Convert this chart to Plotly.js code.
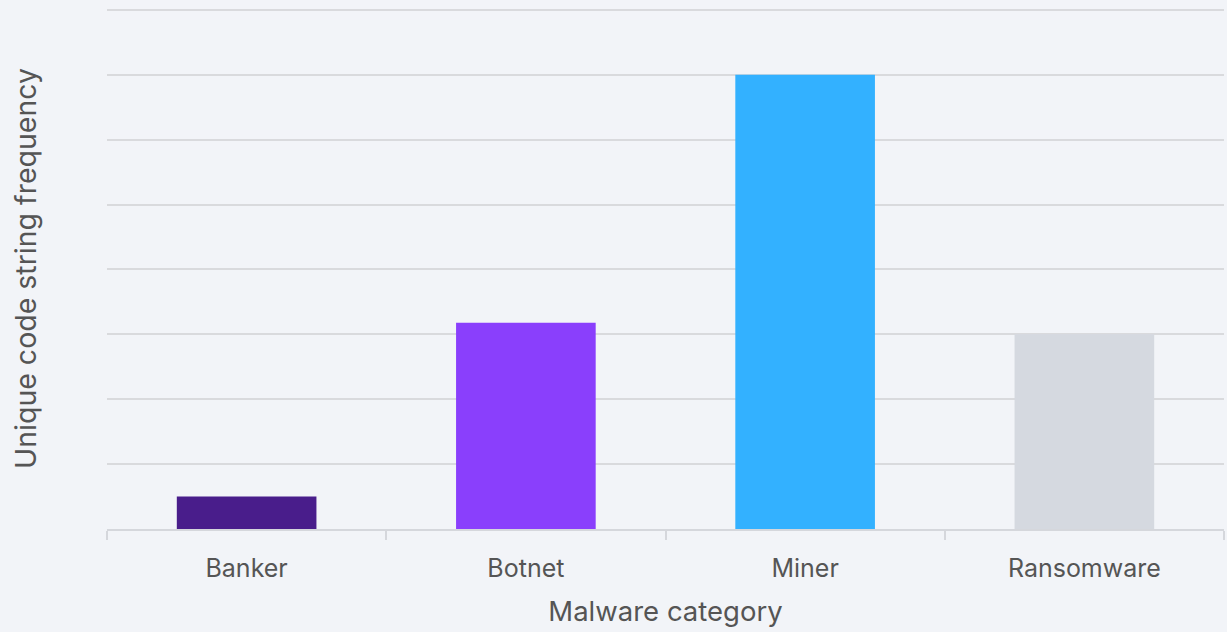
<!DOCTYPE html>
<html>
<head>
<meta charset="utf-8">
<script src="https://cdn.plot.ly/plotly-3.0.1.min.js"></script>
<style>html,body{margin:0;padding:0;background:#f2f4f8;}#chart{width:1227px;height:632px;}</style>
</head>
<body>
<div id="chart"></div>
<script>
const categories = ["Banker", "Botnet", "Miner", "Ransomware"];
const frequency = [0.5, 3.18, 7.0, 3.0];
const barColors = ["#491d8b", "#8a3ffc", "#33b1ff", "#d5d9e0"];
const xTitle = "Malware category";
const yTitle = "Unique code string frequency";

const fontFamily = "Inter, 'Noto Sans', sans-serif";
const trace = {
  type: "bar",
  x: categories,
  y: frequency,
  marker: {color: barColors, line: {width: 0}},
  hoverinfo: "x+y"
};
const layout = {
  width: 1227,
  height: 632,
  paper_bgcolor: "#f2f4f8",
  plot_bgcolor: "#f2f4f8",
  margin: {l: 107, r: 3, t: 8, b: 103},
  bargap: 0.5,
  showlegend: false,
  font: {family: fontFamily, color: "#555555", size: 21},
  xaxis: {
    type: "category",
    showline: true,
    linecolor: "#d5d7dc",
    linewidth: 2,
    ticks: "outside",
    tickson: "boundaries",
    ticklen: 9,
    tickwidth: 2,
    tickcolor: "#d5d7dc",
    showgrid: false,
    tickfont: {size: 25, color: "#555555"},
    ticklabelstandoff: 16,
    title: {text: xTitle, font: {size: 27.5, color: "#555555"}, standoff: 20},
    automargin: false
  },
  yaxis: {
    range: [0, 8.03],
    tickvals: [1, 2, 3, 4, 5, 6, 7, 8],
    showticklabels: false,
    showgrid: true,
    gridcolor: "#d9dadd",
    gridwidth: 2,
    zeroline: false,
    title: {text: yTitle, font: {size: 28.5, color: "#555555"}, standoff: 61},
    automargin: false
  }
};
Plotly.newPlot("chart", [trace], layout, {displayModeBar: false, staticPlot: true});
</script>
</body>
</html>
